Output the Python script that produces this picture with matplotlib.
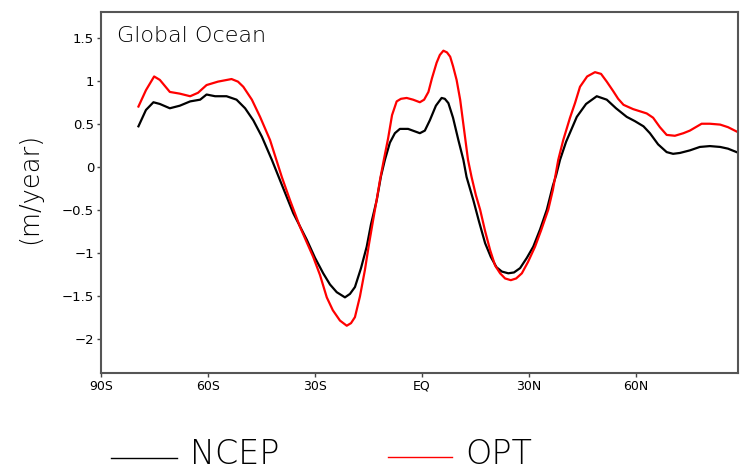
import numpy as np
import matplotlib
matplotlib.use('Agg')
import matplotlib.pyplot as plt
from matplotlib.lines import Line2D

# latitude (deg, negative = south) and values
ncep_lat = [-79.5, -77.4, -75.3, -73.5, -70.7, -67.9, -65.0, -62.2, -60.4, -58.0,
            -54.8, -52.0, -49.6, -47.3, -44.9, -42.1, -39.3, -36.1, -32.3, -30.0,
            -27.7, -25.8, -23.9, -21.6, -20.2, -18.8, -17.1, -15.5, -14.3, -12.7,
            -11.5, -10.4, -9.0, -7.6, -6.2, -3.9, -0.6, 0.8, 2.2, 3.9,
            5.5, 6.4, 7.4, 8.7, 10.2, 11.6, 12.5, 14.4, 16.0, 17.7,
            19.3, 20.9, 22.4, 24.2, 25.8, 27.5, 29.4, 31.2, 33.1, 35.0,
            36.7, 37.6, 38.7, 40.4, 43.4, 46.0, 49.0, 51.8, 54.4, 57.4,
            59.7, 62.1, 63.9, 66.2, 68.6, 70.4, 72.3, 75.1, 77.9, 80.7,
            83.6, 85.8, 88.2]
ncep_val = [0.47, 0.66, 0.75, 0.73, 0.68, 0.71, 0.76, 0.78, 0.84, 0.82,
            0.82, 0.78, 0.68, 0.54, 0.35, 0.08, -0.21, -0.54, -0.85, -1.06,
            -1.24, -1.37, -1.46, -1.52, -1.48, -1.40, -1.18, -0.93, -0.67, -0.39,
            -0.11, 0.08, 0.28, 0.39, 0.44, 0.44, 0.39, 0.42, 0.54, 0.71,
            0.80, 0.79, 0.74, 0.57, 0.31, 0.08, -0.12, -0.39, -0.64, -0.89,
            -1.05, -1.17, -1.22, -1.24, -1.23, -1.18, -1.06, -0.93, -0.73, -0.50,
            -0.22, -0.10, 0.08, 0.29, 0.58, 0.73, 0.82, 0.78, 0.68, 0.58,
            0.53, 0.47, 0.39, 0.26, 0.17, 0.15, 0.16, 0.19, 0.23, 0.24,
            0.23, 0.21, 0.17]

opt_lat = [-79.5, -77.4, -75.1, -73.5, -72.1, -70.7, -67.9, -65.0, -62.8, -60.4,
           -57.2, -53.4, -51.6, -50.1, -47.7, -45.4, -42.6, -39.3, -37.0, -34.2,
           -32.2, -30.5, -28.6, -26.7, -25.0, -23.0, -21.1, -19.9, -18.8, -17.4,
           -16.0, -14.9, -13.7, -12.6, -11.8, -10.7, -9.5, -8.4, -7.1, -5.9,
           -4.3, -2.5, -0.6, 0.6, 1.8, 2.8, 4.1, 5.0, 6.0, 7.0,
           7.9, 8.7, 9.7, 10.7, 11.8, 12.9, 13.9, 15.1, 16.3, 17.7,
           19.1, 20.5, 21.9, 23.3, 24.9, 26.4, 28.0, 29.7, 31.7, 33.4,
           35.4, 36.7, 38.2, 39.6, 41.5, 42.9, 44.3, 46.3, 48.5, 50.2,
           51.8, 53.6, 55.0, 56.5, 59.2, 63.0, 64.8, 66.7, 68.6, 70.9,
           73.3, 75.1, 78.4, 80.7, 83.6, 85.8, 88.2]
opt_val = [0.70, 0.89, 1.05, 1.01, 0.94, 0.87, 0.85, 0.82, 0.86, 0.95,
           0.99, 1.02, 0.99, 0.93, 0.78, 0.58, 0.31, -0.12, -0.39, -0.70,
           -0.89, -1.05, -1.26, -1.52, -1.67, -1.79, -1.85, -1.82, -1.75, -1.51,
           -1.20, -0.91, -0.62, -0.36, -0.16, 0.08, 0.33, 0.60, 0.76, 0.79,
           0.80, 0.78, 0.75, 0.78, 0.87, 1.03, 1.21, 1.30, 1.35, 1.33,
           1.28, 1.17, 1.01, 0.78, 0.43, 0.08, -0.12, -0.33, -0.50, -0.75,
           -0.97, -1.15, -1.24, -1.30, -1.32, -1.30, -1.24, -1.11, -0.93, -0.74,
           -0.50, -0.27, 0.08, 0.31, 0.57, 0.74, 0.93, 1.05, 1.10, 1.08,
           0.99, 0.88, 0.79, 0.72, 0.67, 0.62, 0.57, 0.46, 0.37, 0.36,
           0.39, 0.42, 0.50, 0.50, 0.49, 0.46, 0.41]

xtick_pos = [-90, -60, -30, 0, 30, 60]
xtick_lab = ['90S', '60S', '30S', 'EQ', '30N', '60N']
ytick_pos = [-2, -1.5, -1, -0.5, 0, 0.5, 1, 1.5]
ytick_lab = ['\u22122', '\u22121.5', '\u22121', '\u22120.5', '0', '0.5', '1', '1.5']

fig = plt.figure(figsize=(7.4, 4.71), dpi=100)
ax = fig.add_axes([101/740, 98/471, 637/740, 361/471])

ax.plot(ncep_lat, ncep_val, color='black', lw=1.6)
ax.plot(opt_lat, opt_val, color='red', lw=1.6)

ax.set_xlim(-90, 88.6)
ax.set_ylim(-2.4, 1.8)
ax.set_xticks(xtick_pos)
ax.set_xticklabels(xtick_lab, fontsize=9)
ax.set_yticks(ytick_pos)
ax.set_yticklabels(ytick_lab, fontsize=9.5)
ax.tick_params(direction='out', length=3, width=1, color='#444444', pad=2)
for s in ax.spines.values():
	s.set_color('#555555')
	s.set_linewidth(1.5)

ax.text(0.025, 0.96, 'Global Ocean', transform=ax.transAxes, fontsize=16,
	fontweight='light', color='black', va='top', ha='left')
fig.text(30/740, 1-188/471, '(m/year)', rotation=90, fontsize=18.5,
	fontweight='light', ha='center', va='center')

# legend below the plot
fig.add_artist(Line2D([111/740, 177/740], [1-458/471, 1-458/471], color='black', lw=1))
fig.text(190/740, 1-455/471, 'NCEP', fontsize=24, fontweight='light', ha='left', va='center')
fig.add_artist(Line2D([388/740, 452/740], [1-457/471, 1-457/471], color='red', lw=1))
fig.text(465/740, 1-455/471, 'OPT', fontsize=24, fontweight='light', ha='left', va='center')

fig.savefig('out.png', dpi=100)
